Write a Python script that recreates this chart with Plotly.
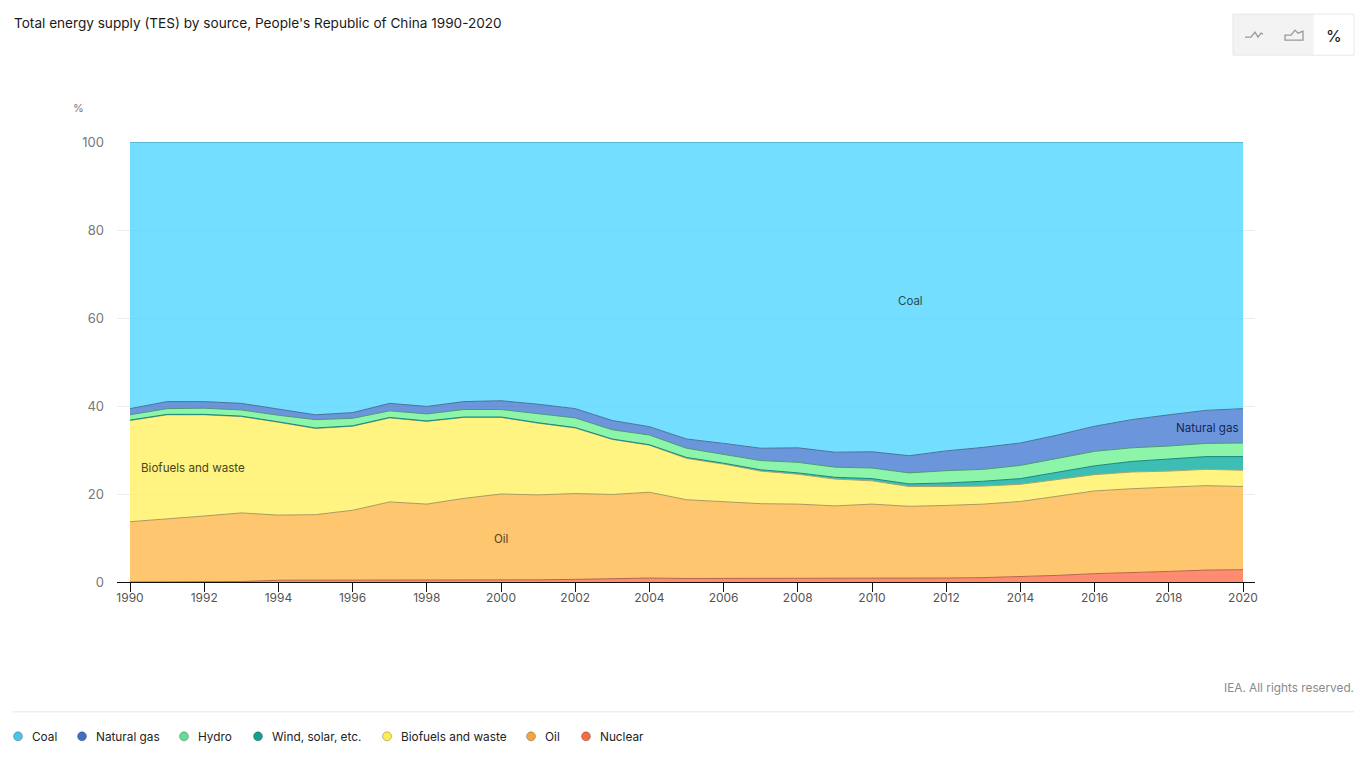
import plotly.graph_objects as go

W, H = 1370, 757
L, R, T, B = 117, 1255, 142, 582.5

years = list(range(1990, 2021))
nuclear = [0, 0, 0, 0.1, 0.4, 0.4, 0.4, 0.4, 0.4, 0.4, 0.4, 0.5, 0.6, 0.8, 0.9, 0.8, 0.8, 0.8, 0.9, 0.8, 0.8, 0.8, 0.9, 1.0, 1.2, 1.5, 1.9, 2.1, 2.4, 2.7, 2.8]
oil = [13.7, 14.3, 15.0, 15.6, 14.8, 14.9, 15.9, 17.8, 17.3, 18.6, 19.6, 19.3, 19.5, 19.1, 19.5, 17.9, 17.4, 17.0, 16.8, 16.5, 16.9, 16.4, 16.5, 16.7, 17.1, 18.0, 18.8, 19.1, 19.1, 19.2, 18.9]
biofuels = [23.0, 23.7, 23.0, 21.9, 21.1, 19.6, 19.1, 19.1, 18.8, 18.4, 17.4, 16.3, 14.9, 12.5, 10.7, 9.4, 8.6, 7.4, 6.8, 6.1, 5.3, 4.5, 4.3, 4.1, 3.9, 3.8, 3.7, 3.8, 3.7, 3.7, 3.7]
wind = [0.1, 0.1, 0.1, 0.1, 0.1, 0.1, 0.1, 0.1, 0.1, 0.1, 0.1, 0.1, 0.1, 0.1, 0.1, 0.2, 0.2, 0.3, 0.3, 0.4, 0.5, 0.6, 0.8, 1.1, 1.3, 1.7, 2.0, 2.4, 2.7, 2.9, 3.1]
hydro = [1.2, 1.3, 1.4, 1.4, 1.5, 1.9, 1.7, 1.5, 1.6, 1.7, 1.7, 2.0, 2.2, 2.1, 2.2, 2.1, 2.0, 2.1, 2.4, 2.3, 2.4, 2.5, 2.8, 2.7, 3.0, 3.1, 3.3, 3.1, 3.0, 3.0, 3.1]
gas = [1.4, 1.6, 1.5, 1.5, 1.4, 1.1, 1.3, 1.7, 1.7, 1.8, 2.0, 2.2, 2.1, 2.1, 1.9, 2.1, 2.5, 2.8, 3.3, 3.4, 3.7, 3.9, 4.5, 5.0, 5.1, 5.3, 5.7, 6.4, 7.1, 7.5, 7.8]
coal = [60.6, 59.0, 59.0, 59.4, 60.7, 62.0, 61.5, 59.4, 60.1, 59.0, 58.8, 59.6, 60.6, 63.3, 64.7, 67.5, 68.5, 69.6, 69.5, 70.5, 70.4, 71.3, 70.2, 69.4, 68.4, 66.6, 64.6, 63.1, 62.0, 61.0, 60.6]

names = ["Nuclear", "Oil", "Biofuels and waste", "Wind, solar, etc.", "Hydro", "Natural gas", "Coal"]
series = [nuclear, oil, biofuels, wind, hydro, gas, coal]
fills = ["rgba(255,111,74,.8)", "rgba(255,184,76,.8)", "rgba(255,240,99,.8)", "rgba(11,174,161,.8)",
         "rgba(111,242,149,.8)", "rgba(70,124,211,.8)", "rgba(80,214,255,.8)"]
lines = ["#b5654c", "#a99a5e", "#a8a565", "#168a80", "#4c9a74", "#4a7396", "#3f8fa8"]
dots = ["#F56B4A", "#F2A541", "#FFEB52", "#12A08F", "#62DE92", "#3F70C4", "#4CC3EA"]
key_x = [586, 531, 387, 258, 184, 82, 18]
tick_years = list(range(1990, 2021, 2))
y_ticks = [0, 20, 40, 60, 80, 100]

FONT = "Inter, Lato, sans-serif"


def px(x):
    return (x - L) / (R - L)


def py(y):
    return (B - y) / (B - T)


fig = go.Figure()
for n, s, f, c in zip(names, series, fills, lines):
    fig.add_trace(go.Scatter(x=years, y=s, name=n, stackgroup="one", mode="lines",
                             line=dict(color=c, width=1), fillcolor=f, showlegend=False))


def note(x, y, text, size=11.5, color="#333", anchor="left"):
    fig.add_annotation(xref="paper", yref="paper", x=px(x), y=py(y), text=text, showarrow=False,
                       xanchor=anchor, yanchor="middle", xshift=-1 if anchor == "left" else 0,
                       font=dict(family=FONT, size=size, color=color))


note(13, 23, "Total energy supply (TES) by source, People's Republic of China 1990-2020", 13.6, "#1a1a1a")
note(72, 108, "%", 11, "#777")
note(897, 301, "Coal", 11.5, "#2b4a55")
note(1175, 428, "Natural gas", 11.6, "#14265a")
note(139.5, 468, "Biofuels and waste", 11.6, "#4a4520")
note(493, 539, "Oil", 11.5, "#5a4020")
note(1356, 689, "IEA. All rights reserved.", 11.8, "#8a8a8a", "right")
note(1333.5, 35.5, "%", 16, "#111", "center")

for n, d, kx in zip(names, dots, key_x):
    fig.add_shape(type="circle", xref="paper", yref="paper", x0=px(kx - 4.5), x1=px(kx + 4.5),
                  y0=py(737 - 4.5), y1=py(737 + 4.5), fillcolor=d, line=dict(color="rgba(0,0,0,.25)", width=1))
    note(kx + 13, 737.5, n, 11.8, "#222")


def rect(x0, y0, x1, y1, fill, line=None):
    fig.add_shape(type="rect", xref="paper", yref="paper", x0=px(x0), x1=px(x1), y0=py(y0), y1=py(y1),
                  fillcolor=fill, line=dict(color=line or fill, width=1))


def icon(points, closed=False):
    d = "M" + " L".join(f"{px(a):.5f},{py(b):.5f}" for a, b in points) + (" Z" if closed else "")
    fig.add_shape(type="path", xref="paper", yref="paper", path=d, line=dict(color="#999", width=1.3))


rect(1233, 14, 1354, 55, "#f3f3f3", "#e6e6e6")
rect(1314, 15, 1353, 54, "#ffffff")
icon([(1245, 37), (1251, 37), (1255, 32), (1258, 37), (1261, 33), (1263, 34)])
icon([(1285, 40), (1285, 35), (1291, 35), (1295, 30), (1298, 33), (1303, 31), (1303, 40)], True)
fig.add_shape(type="line", xref="paper", yref="paper", x0=px(13), x1=px(1354), y0=py(712.5), y1=py(712.5),
              line=dict(color="#e6e6e6", width=1))

fig.update_layout(
    width=W, height=H, margin=dict(l=L, r=W - R, t=T, b=H - B),
    paper_bgcolor="white", plot_bgcolor="white", showlegend=False,
    font=dict(family=FONT, size=12, color="#555"), hovermode="x unified",
    xaxis=dict(range=[1990 - 13 / 37.1, 2020 + 12 / 37.1], tickvals=tick_years, ticks="outside", ticklen=9,
               tickwidth=1, tickcolor="#111", showgrid=False, showline=True, linecolor="#111", linewidth=1,
               zeroline=False, tickfont=dict(size=12, color="#555"), ticklabelstandoff=-4),
    yaxis=dict(range=[0, 100], tickvals=y_ticks, showgrid=True, gridcolor="#ececec", gridwidth=1,
               zeroline=False, showline=False, ticks="", tickfont=dict(size=13, color="#777"), ticklabelstandoff=12),
)
fig.write_html("out.html", config={"displayModeBar": False},
               post_script="document.body.style.margin='0';document.body.style.overflow='hidden';")
